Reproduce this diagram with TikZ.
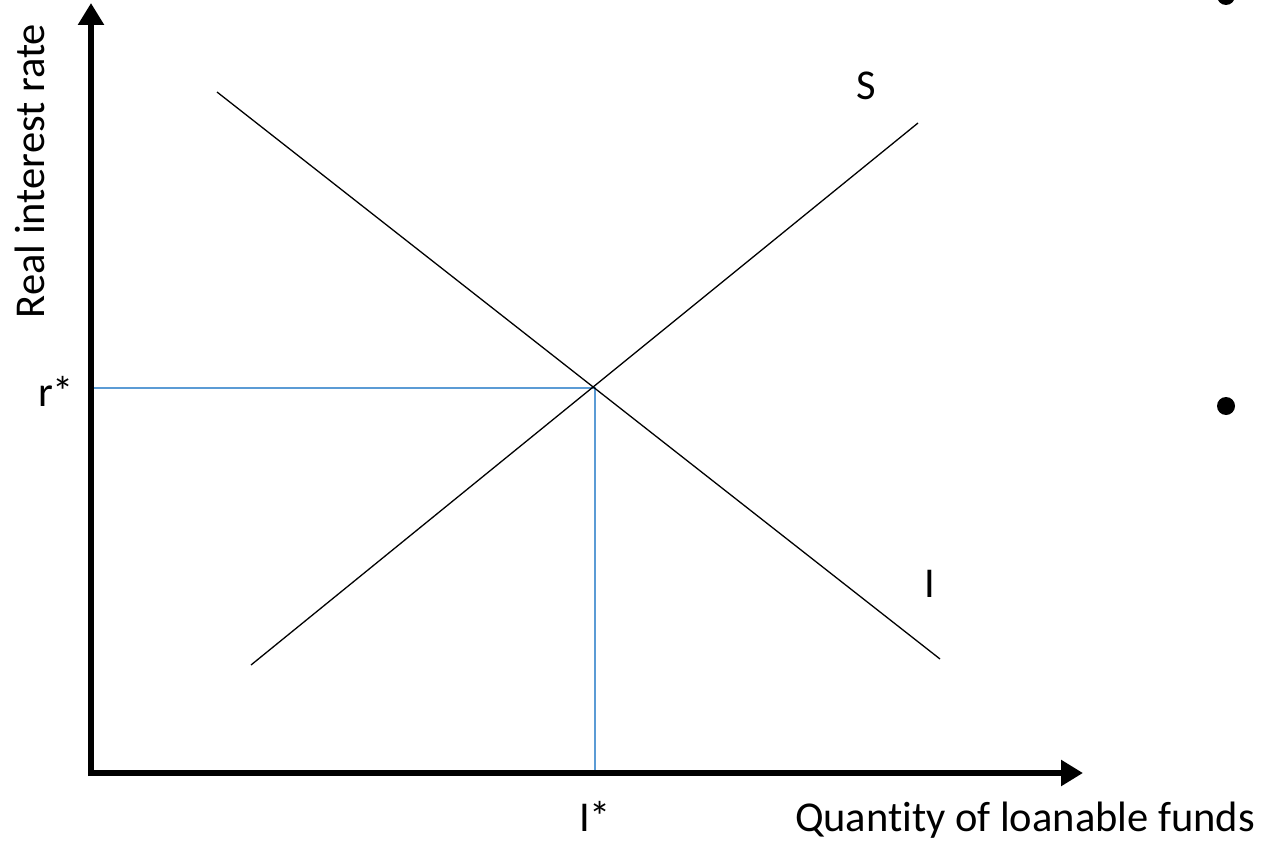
\documentclass[tikz,border=0pt]{standalone}
\usepackage{fontspec}
\setmainfont{Carlito}[Ligatures=NoCommon]
\usepackage{tikz}
\usetikzlibrary{positioning,arrows.meta,calc}
\definecolor{LineBlue}{RGB}{91,155,213}
\definecolor{AxisBlack}{RGB}{0,0,0}
\tikzset{
  axis/.style={
    draw=AxisBlack,
    line width=6pt,
    -{Triangle[length=22pt,width=25pt]}
  },
  curve/.style={draw=black,line width=1.3pt},
  guide/.style={draw=LineBlue,line width=1.4pt},
  lbl/.style={font=\fontsize{42.5}{50}\selectfont,inner sep=0pt,anchor=base},
  bullet/.style={circle,fill=black,minimum size=18pt,inner sep=0pt}
}

\begin{document}
\begin{tikzpicture}[x=1pt,y=-1pt]
    \useasboundingbox (0,0) rectangle (1263,842);
    \coordinate (O) at (91,773);
    \coordinate (ytop) at (91,3);
    \coordinate (xend) at (1083,773);
    \coordinate (I1) at (217,92);
    \coordinate (I2) at (940,659);
    \coordinate (S1) at (251,665);
    \coordinate (S2) at (918,123);
    \coordinate (E) at (595,388);
    \coordinate (Er) at (91,388);
    \coordinate (Eq) at (595,770);
    \draw[guide] (Er) -- (E) -- (Eq);
    \draw[curve] (I1) -- (I2);
    \draw[curve] (S1) -- (S2);
    \draw[axis] ($(O)+(0,3)$) -- (ytop);
    \draw[axis] ($(O)+(-3,0)$) -- (xend);
    \node[lbl] (slab) at (866,100) {S};
    \node[lbl] (ilab) at (930,597) {I};
    \node[lbl] (rstar) at (56,406) {r*};
    \node[lbl] (istar) at (595,831) {I*};
    \node[lbl] (xlab) at (1025,831) {Quantity of loanable funds};
    \node[lbl,rotate=90] (ylab) at (44,171) {Real interest rate};
    \node[bullet] (dota) at (1226,406) {};
    \node[bullet] (dotb) at (1226,-4) {};
  \end{tikzpicture}
\end{document}
